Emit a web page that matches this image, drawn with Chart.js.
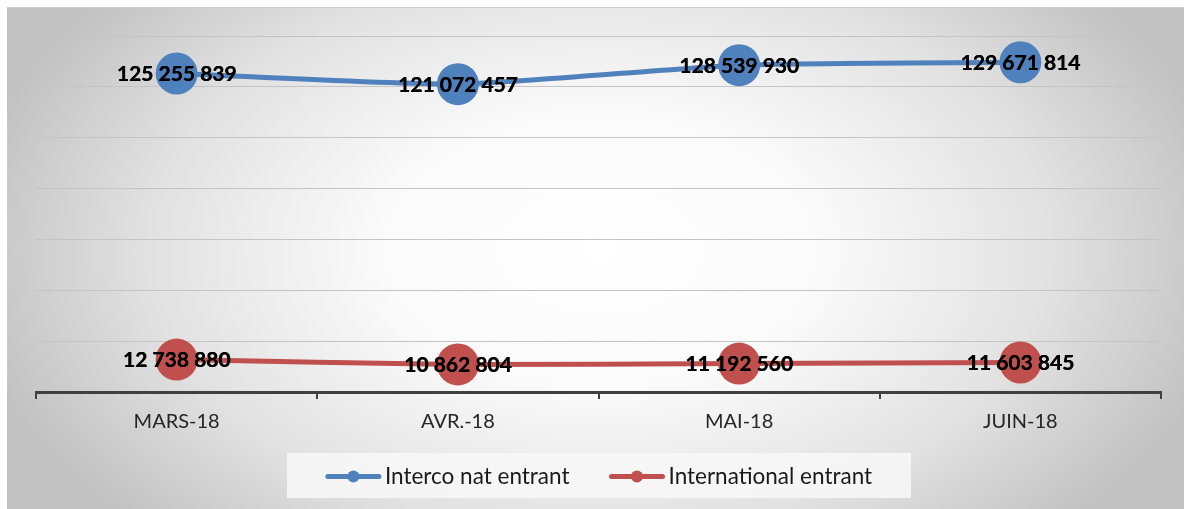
<!DOCTYPE html>
<html>
<head>
<meta charset="utf-8">
<script src="https://cdn.jsdelivr.net/npm/chart.js@4/dist/chart.umd.min.js"></script>
<style>
  html, body { margin: 0; padding: 0; background: #ffffff; }
  #wrap { width: 1184px; height: 509px; position: relative; }
</style>
</head>
<body>
<div id="wrap"><canvas id="c" width="1184" height="509"></canvas></div>
<script>
const categories = ['MARS-18', 'AVR.-18', 'MAI-18', 'JUIN-18'];
const seriesNames = ['Interco nat entrant', 'International entrant'];
const intercoValues = [125255839, 121072457, 128539930, 129671814];
const internationalValues = [12738880, 10862804, 11192560, 11603845];
const yMin = 0, yMax = 140000000, yStep = 20000000;

const BLUE = '#4f81bd';
const RED = '#c0504d';
const FONT = 'Lato, "Open Sans", sans-serif';

function fmt(v) {
  return String(Math.round(v)).replace(/\B(?=(\d{3})+(?!\d))/g, ' ');
}

const bgPlugin = {
  id: 'bg',
  beforeDraw(chart) {
    const ctx = chart.ctx;
    const W = chart.width, H = chart.height;
    ctx.save();
    ctx.fillStyle = '#ffffff';
    ctx.fillRect(0, 0, W, H);
    const x0 = 7, y0 = 7, x1 = 1184, y1 = 509;
    const cx = 600, cy = 250;
    ctx.beginPath();
    ctx.rect(x0, y0, x1 - x0, y1 - y0);
    ctx.clip();
    ctx.translate(cx, cy);
    ctx.scale(1, 0.62);
    const g = ctx.createRadialGradient(0, 0, 0, 0, 0, 640);
    g.addColorStop(0, '#ffffff');
    g.addColorStop(0.35, '#fafafa');
    g.addColorStop(0.7, '#e2e2e2');
    g.addColorStop(1, '#c2c2c2');
    ctx.fillStyle = g;
    ctx.fillRect(-1000, -1000, 2000, 2000);
    ctx.restore();
    ctx.save();
    ctx.strokeStyle = '#d0d0d0';
    ctx.lineWidth = 1;
    ctx.beginPath();
    ctx.moveTo(x0, y0 + 0.5); ctx.lineTo(x1, y0 + 0.5);
    ctx.stroke();
    ctx.restore();
  }
};

const labelPlugin = {
  id: 'valueLabels',
  afterDatasetsDraw(chart) {
    const ctx = chart.ctx;
    ctx.save();
    ctx.font = 'bold 21px ' + FONT;
    ctx.fillStyle = '#000000';
    ctx.textAlign = 'center';
    ctx.textBaseline = 'middle';
    chart.data.datasets.forEach((ds, i) => {
      const meta = chart.getDatasetMeta(i);
      meta.data.forEach((pt, j) => {
        const t = fmt(ds.data[j]);
        ctx.fillText(t, pt.x, pt.y + 1);
        ctx.fillText(t, pt.x + 0.4, pt.y + 1);
      });
    });
    ctx.restore();
  }
};

const legendPlugin = {
  id: 'customLegend',
  afterDraw(chart) {
    const ctx = chart.ctx;
    ctx.save();
    const bx = 287, by = 453, bw = 624, bh = 45;
    ctx.fillStyle = 'rgba(248,248,248,0.85)';
    ctx.fillRect(bx, by, bw, bh);
    ctx.font = '22.5px ' + FONT;
    const lineLen = 55, gap = 4, itemGap = 40;
    const items = chart.data.datasets.map(ds => ({
      label: ds.label, color: ds.borderColor, w: lineLen + gap + ctx.measureText(ds.label).width
    }));
    const total = items.reduce((s, it) => s + it.w, 0) + itemGap * (items.length - 1);
    let x = bx + bw / 2 - total / 2;
    const y = by + bh / 2 + 1;
    items.forEach(it => {
      ctx.strokeStyle = it.color;
      ctx.lineWidth = 5;
      ctx.lineCap = 'round';
      ctx.beginPath();
      ctx.moveTo(x + 2, y); ctx.lineTo(x + lineLen - 2, y);
      ctx.stroke();
      ctx.fillStyle = it.color;
      ctx.beginPath();
      ctx.arc(x + lineLen / 2, y, 6, 0, Math.PI * 2);
      ctx.fill();
      ctx.fillStyle = '#1a1a1a';
      ctx.textAlign = 'left';
      ctx.textBaseline = 'middle';
      ctx.fillText(it.label, x + lineLen + gap, y);
      x += it.w + itemGap;
    });
    ctx.restore();
  }
};

new Chart(document.getElementById('c'), {
  type: 'line',
  data: {
    labels: categories,
    datasets: [
      {
        label: seriesNames[0],
        data: intercoValues,
        borderColor: BLUE,
        backgroundColor: BLUE,
        borderWidth: 5,
        pointRadius: 21,
        pointHoverRadius: 21,
        pointBorderWidth: 0,
        pointBackgroundColor: BLUE,
        tension: 0.2
      },
      {
        label: seriesNames[1],
        data: internationalValues,
        borderColor: RED,
        backgroundColor: RED,
        borderWidth: 5,
        pointRadius: 21,
        pointHoverRadius: 21,
        pointBorderWidth: 0,
        pointBackgroundColor: RED,
        tension: 0.2
      }
    ]
  },
  options: {
    responsive: false,
    animation: false,
    events: [],
    layout: { padding: { left: 36, right: 23, top: 36, bottom: 64 } },
    plugins: {
      legend: { display: false },
      tooltip: { enabled: false }
    },
    scales: {
      x: {
        offset: true,
        grid: {
          offset: true,
          drawOnChartArea: false,
          drawTicks: true,
          tickLength: 7,
          color: '#404040',
          lineWidth: 2
        },
        border: { display: true, color: '#404040', width: 3 },
        ticks: {
          padding: 11,
          color: '#262626',
          font: { family: FONT, size: 20 }
        }
      },
      y: {
        min: yMin,
        max: yMax,
        ticks: { display: false, stepSize: yStep },
        grid: { color: '#c4c4c4', lineWidth: 1, drawTicks: false },
        border: { display: false }
      }
    }
  },
  plugins: [bgPlugin, labelPlugin, legendPlugin]
});
</script>
</body>
</html>
